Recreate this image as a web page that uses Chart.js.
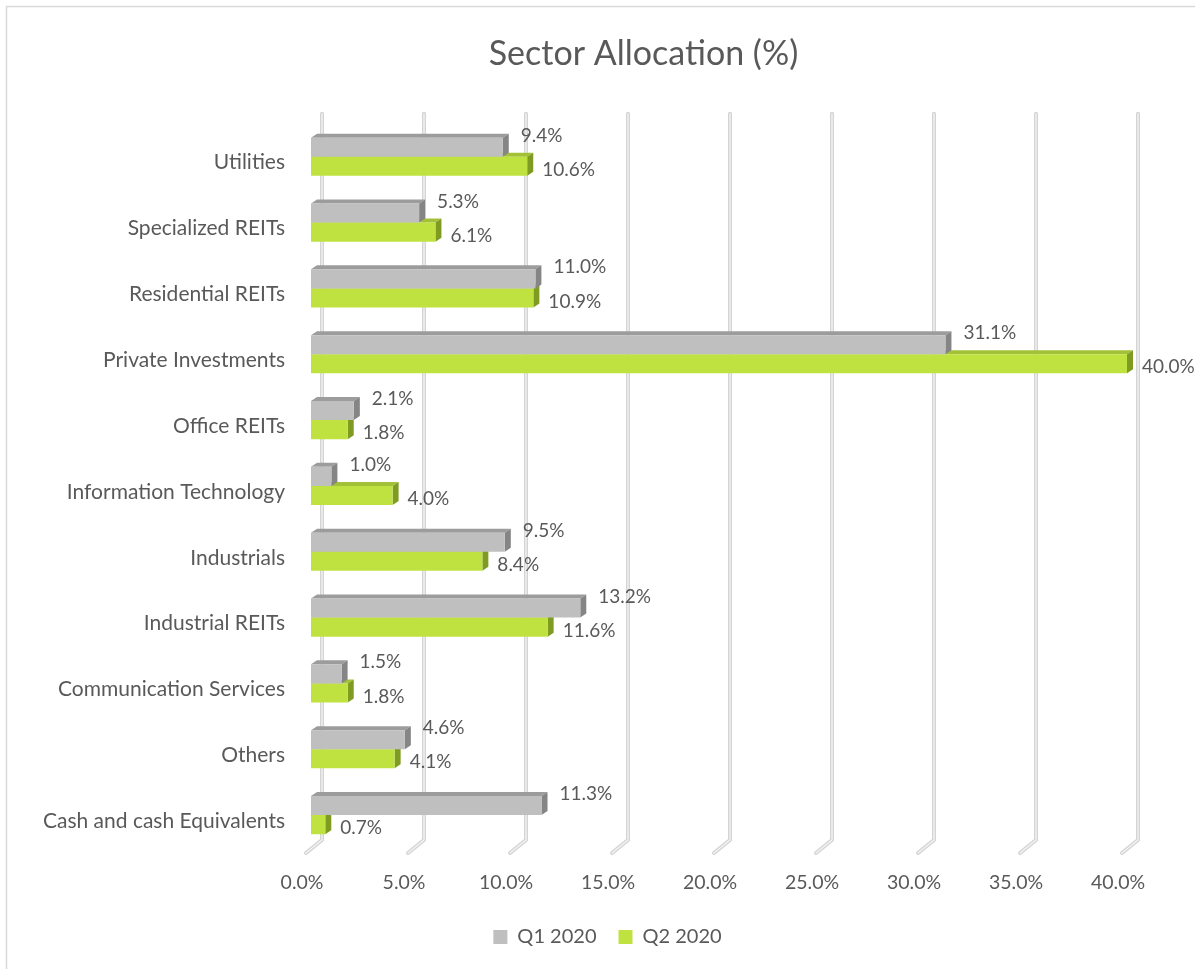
<!DOCTYPE html>
<html>
<head>
<meta charset="utf-8">
<script src="https://cdn.jsdelivr.net/npm/chart.js@4.4.1/dist/chart.umd.min.js"></script>
<style>
  html, body { margin: 0; padding: 0; background: #fff; }
  #wrap { width: 1195px; height: 969px; }
</style>
</head>
<body>
<div id="wrap"><canvas id="myChart" width="1195" height="969"></canvas></div>
<script>
// chart data
const sectors = ['Utilities', 'Specialized REITs', 'Residential REITs', 'Private Investments',
  'Office REITs', 'Information Technology', 'Industrials', 'Industrial REITs',
  'Communication Services', 'Others', 'Cash and cash Equivalents'];
const q1Values = [9.4, 5.3, 11.0, 31.1, 2.1, 1.0, 9.5, 13.2, 1.5, 4.6, 11.3];
const q2Values = [10.6, 6.1, 10.9, 40.0, 1.8, 4.0, 8.4, 11.6, 1.8, 4.1, 0.7];
const seriesNames = ['Q1 2020', 'Q2 2020'];
const xTicks = [0, 5, 10, 15, 20, 25, 30, 35, 40];

const FONT = "Lato, 'Open Sans', sans-serif";
const TEXT = '#595959';
const DEPTH_X = 6, DEPTH_Y = 4;

const faceColors = [
    {top: '#9c9c9c', side: '#858585'},
    {top: '#a3c137', side: '#7f9b22'}
];

// light frame around the picture, only top and left edges show
const framePlugin = {
    id: 'frame',
    beforeDraw(chart) {
        const ctx = chart.ctx;
        ctx.save();
        ctx.strokeStyle = '#d9d9d9';
        ctx.lineWidth = 1.5;
        ctx.strokeRect(6.5, 6.5, 1400, 1400);
        ctx.restore();
    }
};

// title and legend sit centred on the whole picture, not the plot
const centrePlugin = {
    id: 'centre',
    afterLayout(chart) {
        chart.titleBlock.left += 80;
        chart.titleBlock.right += 80;
        chart.legend.left += 44;
        chart.legend.right += 44;
    }
};

// back wall gridlines + the 3d faces of the bars
const threeDPlugin = {
    id: 'threeD',
    beforeDatasetsDraw(chart) {
        const ctx = chart.ctx;
        const xs = chart.scales.x;
        const area = chart.chartArea;
        ctx.save();
        for (const v of xTicks) {
            const bx = xs.getPixelForValue(v) + 11;
            const top = area.top - 10;
            const bot = area.bottom - 8;
            ctx.beginPath();
            ctx.moveTo(bx, top);
            ctx.lineTo(bx, bot);
            ctx.lineTo(bx - 16, bot + 13);
            ctx.lineCap = 'round';
            ctx.lineJoin = 'round';
            ctx.strokeStyle = '#d4d4d4';
            ctx.lineWidth = 4;
            ctx.stroke();
            ctx.strokeStyle = '#f4f4f4';
            ctx.lineWidth = 1.3;
            ctx.stroke();
        }
        // green first so the grey faces sit on top
        for (let d = chart.data.datasets.length - 1; d >= 0; d--) {
            const meta = chart.getDatasetMeta(d);
            const c = faceColors[d];
            for (const el of meta.data) {
                const x0 = el.base, x1 = el.x;
                const y0 = el.y - el.height / 2, y1 = el.y + el.height / 2;
                ctx.fillStyle = c.top;
                ctx.beginPath();
                ctx.moveTo(x0, y0);
                ctx.lineTo(x0 + DEPTH_X, y0 - DEPTH_Y);
                ctx.lineTo(x1 + DEPTH_X, y0 - DEPTH_Y);
                ctx.lineTo(x1, y0);
                ctx.closePath();
                ctx.fill();
                ctx.fillStyle = c.side;
                ctx.beginPath();
                ctx.moveTo(x1, y0);
                ctx.lineTo(x1 + DEPTH_X, y0 - DEPTH_Y);
                ctx.lineTo(x1 + DEPTH_X, y1 - DEPTH_Y);
                ctx.lineTo(x1, y1);
                ctx.closePath();
                ctx.fill();
            }
        }
        ctx.restore();
    },
    afterDatasetsDraw(chart) {
        const ctx = chart.ctx;
        ctx.save();
        ctx.font = '19px ' + FONT;
        ctx.fillStyle = TEXT;
        ctx.textAlign = 'left';
        ctx.textBaseline = 'middle';
        chart.data.datasets.forEach((ds, d) => {
            const meta = chart.getDatasetMeta(d);
            meta.data.forEach((el, i) => {
                const txt = ds.data[i].toFixed(1) + '%';
                const y0 = el.y - el.height / 2, y1 = el.y + el.height / 2;
                if (d === 0) {
                    ctx.fillText(txt, el.x + DEPTH_X + 12, y0 - 2);
                } else {
                    ctx.fillText(txt, el.x + DEPTH_X + 9, y1 - 6);
                }
            });
        });
        ctx.restore();
    }
};

let chart;
document.addEventListener('DOMContentLoaded', function () {
    const ctx = document.getElementById('myChart').getContext('2d');
    chart = new Chart(ctx, {
        type: 'bar',
        data: {
            labels: sectors,
            datasets: [
                {label: seriesNames[0], data: q1Values, backgroundColor: '#bfbfbf'},
                {label: seriesNames[1], data: q2Values, backgroundColor: '#c0e240'}
            ]
        },
        options: {
            indexAxis: 'y',
            responsive: false,
            animation: false,
            maintainAspectRatio: false,
            categoryPercentage: 0.58,
            barPercentage: 1.0,
            layout: {padding: {left: 0, right: 68, top: 0, bottom: 12}},
            scales: {
                x: {
                    min: 0, max: 40,
                    grid: {display: false, drawTicks: false},
                    border: {display: false},
                    afterBuildTicks(scale) {
                        scale.ticks = xTicks.map(v => ({value: v}));
                    },
                    afterFit(scale) { scale.height = 57; },
                    ticks: {
                        color: TEXT,
                        font: {family: FONT, size: 19.5},
                        labelOffset: -9,
                        padding: 23,
                        callback: v => v.toFixed(1) + '%'
                    }
                },
                y: {
                    grid: {display: false, drawTicks: false},
                    border: {display: false},
                    afterFit(scale) { scale.width = 311; },
                    ticks: {
                        color: TEXT,
                        font: {family: FONT, size: 21},
                        labelOffset: 6,
                        padding: 26
                    }
                }
            },
            plugins: {
                title: {
                    display: true,
                    text: 'Sector Allocation (%)',
                    color: TEXT,
                    font: {family: FONT, size: 34, weight: 'normal'},
                    padding: {top: 34, bottom: 49}
                },
                legend: {
                    position: 'bottom',
                    labels: {
                        color: TEXT,
                        font: {family: FONT, size: 20},
                        boxWidth: 14,
                        boxHeight: 14,
                        padding: 22
                    }
                },
                tooltip: {enabled: false}
            }
        },
        plugins: [framePlugin, centrePlugin, threeDPlugin]
    });
});
</script>
</body>
</html>
